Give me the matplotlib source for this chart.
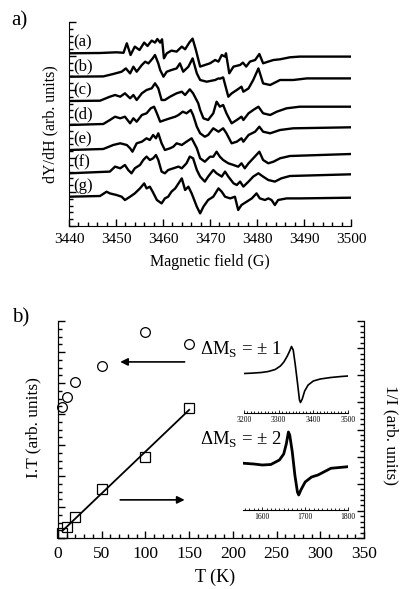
import numpy as np
import matplotlib
matplotlib.use('Agg')
import matplotlib.pyplot as plt
from matplotlib.ticker import MultipleLocator, NullFormatter

plt.rcParams['font.family'] = ['Liberation Serif', 'DejaVu Serif']
plt.rcParams['mathtext.fontset'] = 'custom'
plt.rcParams['mathtext.rm'] = 'Liberation Serif'

# ---- panel a : EPR spectra (field in G, signal in arb. units) ----
labels_a = ['(a)', '(b)', '(c)', '(d)', '(e)', '(f)', '(g)']

field_a = [3440.0, 3446.6, 3450.1, 3451.6, 3452.3, 3453.1, 3454.0, 3455.0, 3456.0, 3456.7,
           3457.6, 3458.3, 3458.8, 3459.4, 3459.8, 3460.2, 3460.8, 3461.8, 3462.9, 3464.0,
           3464.7, 3465.6, 3466.3, 3467.0, 3467.9, 3470.0, 3471.1, 3471.8, 3472.5, 3473.2,
           3473.4, 3474.1, 3475.0, 3476.4, 3477.0, 3477.7, 3478.5, 3479.6, 3480.5, 3481.3,
           3482.4, 3483.5, 3484.9, 3487.0, 3489.1, 3500.0]
sig_a = [0, 0.3, 1.0, 0.5, 10.0, -1.7, 6.7, 3.3, 10.7, 7.3,
         12.7, 10.7, 14.3, 10.7, 14.0, -5.0, 0, 2.7, 1.7, 6.7,
         4.0, 10.7, 14.7, 3.3, -13.3, -10.0, -6.7, -8.3, -1.7, -3.3,
         0, -20.0, -13.3, -11.7, -9.3, -13.3, -8.3, -6.7, -0.7, -10.0,
         -8.3, -6.7, -6.0, -4.0, -3.3, -3.3]

field_b = [3440.0, 3447.3, 3449.4, 3451.2, 3452.1, 3453.0, 3453.7, 3454.4, 3455.5, 3456.2,
           3456.9, 3457.8, 3458.3, 3459.0, 3459.4, 3460.1, 3460.8, 3461.8, 3462.9, 3463.6,
           3464.3, 3465.4, 3466.3, 3467.2, 3467.9, 3469.3, 3471.1, 3471.8, 3472.1, 3472.8,
           3473.9, 3474.6, 3475.7, 3476.7, 3477.1, 3478.2, 3479.2, 3480.3, 3481.3, 3482.8,
           3484.9, 3487.7, 3490.6, 3500.0]
sig_b = [0, 0.3, 2.7, 5.0, 8.3, 3.3, 10.0, 5.0, 11.7, 15.0,
         13.3, 18.3, 21.7, 13.3, 6.7, 0, 5.0, 6.7, 8.3, 13.3,
         5.0, 10.0, 18.3, 3.3, -3.3, -5.0, -3.3, -1.7, -2.0, -0.7,
         -20.0, -16.7, -13.3, -10.0, -15.0, -11.7, -3.3, 8.3, -6.7, -8.3,
         -3.3, -3.3, -1.7, -1.7]

field_c = [3440.0, 3446.6, 3448.7, 3449.8, 3450.9, 3451.9, 3453.0, 3453.7, 3454.4, 3455.5,
           3456.5, 3457.6, 3458.3, 3459.0, 3459.7, 3460.4, 3461.5, 3462.2, 3462.9, 3464.0,
           3464.7, 3465.7, 3466.4, 3467.5, 3467.9, 3468.6, 3469.6, 3470.7, 3471.4, 3472.1,
           3472.8, 3473.5, 3474.6, 3475.7, 3476.7, 3477.1, 3478.2, 3479.2, 3480.3, 3481.3,
           3482.8, 3484.2, 3486.3, 3489.1, 3500.0]
sig_c = [0, 0.3, 4.3, 6.0, 4.3, 7.7, 2.7, 6.0, 1.0, 7.7,
         11.0, 12.7, 17.7, 12.7, 1.0, 1.0, 4.3, 6.0, 7.7, 9.3,
         6.0, 11.7, 7.7, -2.3, -9.0, -17.3, -19.0, -12.3, -0.7, -5.7,
         -4.0, -12.3, -22.3, -19.0, -15.7, -19.0, -12.3, -9.0, -5.7, -12.3,
         -14.0, -10.7, -7.3, -5.7, -5.7]

field_d = [3440.0, 3447.3, 3448.7, 3449.8, 3450.9, 3451.9, 3453.0, 3453.7, 3454.4, 3455.5,
           3456.5, 3457.4, 3458.1, 3458.7, 3459.4, 3460.4, 3461.5, 3462.6, 3463.3, 3464.2,
           3465.0, 3465.9, 3466.4, 3467.2, 3467.9, 3468.9, 3469.6, 3470.7, 3471.8, 3472.8,
           3473.5, 3474.6, 3475.7, 3476.7, 3477.1, 3478.2, 3479.6, 3480.5, 3481.3, 3482.8,
           3484.9, 3487.7, 3500.0]
sig_d = [0, 1.0, 5.0, 8.3, 6.7, 8.3, 1.7, 6.7, 3.3, 10.0,
         11.7, 16.7, 18.3, 11.7, 3.3, 5.0, 6.7, 8.3, 10.0, 13.3,
         11.7, 15.0, 10.0, -1.7, -8.3, -11.7, -10.0, -3.3, -6.7, -3.3,
         -8.3, -18.3, -16.7, -13.3, -16.7, -10.0, -6.7, -1.7, -6.7, -8.3,
         -5.0, -3.3, -2.3]

field_e = [3440.0, 3447.3, 3449.4, 3450.9, 3452.3, 3453.0, 3453.5, 3454.4, 3455.5, 3456.5,
           3457.2, 3457.9, 3458.5, 3459.0, 3459.7, 3460.4, 3461.5, 3462.2, 3462.9, 3464.0,
           3465.0, 3466.1, 3467.2, 3467.9, 3468.9, 3470.0, 3470.7, 3471.4, 3472.1, 3472.8,
           3473.9, 3475.0, 3476.0, 3476.7, 3477.4, 3478.2, 3479.2, 3480.5, 3481.3, 3482.4,
           3483.5, 3484.9, 3487.0, 3500.0]
sig_e = [0, 1.0, 5.0, 6.7, 5.0, 1.7, -1.7, 6.7, 8.3, 11.7,
         10.0, 15.0, 11.7, 16.7, 6.7, 0, 1.7, 3.3, 6.7, 5.0,
         8.3, 11.7, 1.7, -8.3, -11.7, -6.7, -6.7, -1.7, -6.7, -10.0,
         -13.3, -15.0, -16.7, -13.3, -18.3, -13.3, -8.3, -1.7, -10.0, -13.3,
         -11.7, -8.3, -6.0, -4.0]

field_f = [3440.0, 3448.7, 3449.8, 3450.9, 3451.9, 3452.6, 3453.3, 3454.0, 3455.1, 3455.8,
           3456.5, 3457.2, 3457.9, 3458.5, 3459.0, 3459.7, 3460.4, 3461.1, 3462.2, 3463.3,
           3464.0, 3465.0, 3465.7, 3466.4, 3467.2, 3467.9, 3468.9, 3469.6, 3470.7, 3471.4,
           3472.5, 3473.2, 3473.9, 3475.0, 3475.7, 3476.4, 3477.1, 3478.2, 3479.2, 3480.3,
           3481.3, 3482.4, 3483.8, 3485.2, 3487.0, 3500.0]
sig_f = [0, 1.7, 6.7, 5.0, 8.3, 3.3, 0, 5.0, 8.3, 13.3,
         16.7, 13.3, 15.0, 18.3, 13.3, 1.7, 0, 3.3, 5.0, 6.7,
         5.0, 10.0, 16.7, 15.0, 3.3, -3.3, -8.3, -3.3, 3.3, 0,
         -3.3, 1.7, -3.3, -10.0, -11.7, -8.3, -13.3, -8.3, -3.3, 0,
         -3.3, -6.7, -8.3, -5.0, -2.7, -1.0]

field_g = [3440.0, 3446.6, 3448.0, 3448.7, 3450.1, 3451.2, 3451.9, 3453.0, 3454.0, 3455.1,
           3456.0, 3456.5, 3457.2, 3457.8, 3458.7, 3459.7, 3460.4, 3461.1, 3461.8, 3462.6,
           3463.3, 3464.0, 3464.7, 3465.4, 3466.1, 3467.2, 3467.9, 3468.6, 3469.6, 3470.7,
           3471.8, 3472.5, 3473.2, 3474.3, 3475.3, 3476.0, 3476.7, 3477.8, 3478.9, 3479.9,
           3480.6, 3481.7, 3482.4, 3483.1, 3483.8, 3484.5, 3486.3, 3489.1, 3500.0]
sig_g = [0, 0.7, 5.0, 3.3, 1.7, 0, -3.3, 0, 3.3, 8.3,
         13.3, 8.3, 10.0, 5.0, -3.3, -6.7, -1.7, 0, 5.0, 8.3,
         13.3, 18.3, 6.7, 10.0, 3.3, -10.0, -16.7, -10.0, -3.3, 0,
         8.3, 5.0, 0, -1.7, 0, -13.3, -8.3, -5.0, -1.7, 3.3,
         -1.7, -3.3, -1.7, -3.3, -8.3, -3.3, -1.7, -1.7, -1.0]

spectra = [(field_a, sig_a), (field_b, sig_b), (field_c, sig_c), (field_d, sig_d),
           (field_e, sig_e), (field_f, sig_f), (field_g, sig_g)]

# ---- panel b : intensities vs temperature ----
T = [5, 10, 20, 50, 100, 150]
IT = [4.22, 4.56, 5.04, 5.56, 6.65, 6.25]          # circles, left axis
inv_I = [0.20, 0.39, 0.76, 1.81, 3.00, 4.79]        # squares, right axis

# ---- insets ----
b1_field = [3200, 3220, 3250, 3270, 3290, 3305, 3315, 3325, 3333, 3337, 3342, 3348,
            3355, 3360, 3363, 3368, 3375, 3385, 3400, 3420, 3450, 3480, 3500]
b1_sig = [39.5, 39.8, 40.5, 41.5, 43.5, 47, 51, 57, 63, 66.5, 63, 48,
          28, 13, 10.5, 14, 22, 28, 32, 34, 35.5, 36.5, 37]
b2_field = [1558, 1580, 1600, 1620, 1640, 1650, 1656, 1661, 1664, 1670, 1676, 1682,
            1685, 1690, 1700, 1715, 1730, 1760, 1800]
b2_sig = [46.7, 46, 45, 45.5, 50, 56, 66, 78, 75, 58, 35, 18,
          15, 20, 28, 33, 35, 41.7, 43.3]

W, H = 401, 589
def rect(l, t, r, b):
    return [l / W, 1 - b / H, (r - l) / W, (b - t) / H]

fig = plt.figure(figsize=(W / 100, H / 100), dpi=100)

# ===== panel a =====
axa = fig.add_axes(rect(69, 22, 351, 226))
offsets = [172.7, 149.3, 125.0, 101.0, 76.0, 52.7, 29.3]
for (f, s), off, lab in zip(spectra, offsets, labels_a):
    axa.plot(f, np.array(s) + off, color='black', lw=1.7)
    axa.text(3440.9, off + 2.5, lab, fontsize=12, ha='left', va='bottom')
axa.set_xlim(3440, 3500)
axa.set_ylim(0, 204)
for s in ['top', 'right']:
    axa.spines[s].set_visible(False)
axa.xaxis.set_major_locator(MultipleLocator(10))
axa.xaxis.set_minor_locator(MultipleLocator(2))
axa.yaxis.set_major_locator(MultipleLocator(34))
axa.yaxis.set_minor_locator(MultipleLocator(6.8))
axa.yaxis.set_major_formatter(NullFormatter())
axa.tick_params(which='both', direction='in', labelsize=11, width=1)
axa.tick_params(which='major', length=5, pad=5)
axa.tick_params(which='minor', length=3)
fig.text(50 / W, 1 - 124 / H, 'dY/dH (arb. units)', rotation=90, fontsize=11.5, ha='center', va='center')
fig.text(210 / W, 1 - 262 / H, 'Magnetic field (G)', fontsize=11.5, ha='center', va='center')
fig.text(19 / W, 1 - 21 / H, 'a)', fontsize=15, ha='center', va='center')

# ===== panel b =====
axb = fig.add_axes(rect(58, 321, 364, 538))
axb.plot(T, IT, 'o', mfc='none', mec='black', ms=7, mew=0.9, clip_on=False)
axb.set_xlim(0, 350)
axb.set_ylim(0, 7)
axb.spines['top'].set_visible(False)
axb.xaxis.set_major_locator(MultipleLocator(50))
axb.xaxis.set_minor_locator(MultipleLocator(10))
axb.yaxis.set_major_locator(MultipleLocator(1))
axb.yaxis.set_minor_locator(MultipleLocator(0.25))
axb.yaxis.set_major_formatter(NullFormatter())
axb.tick_params(which='both', direction='in', labelsize=12.5, width=1)
axb.tick_params(which='major', length=5, pad=6)
axb.tick_params(which='minor', length=3)
axb.annotate('', xy=(68, 5.68), xytext=(148, 5.68),
             arrowprops=dict(arrowstyle='-|>', color='black', lw=1.2, mutation_scale=11))
axb.annotate('', xy=(148, 1.23), xytext=(68, 1.23),
             arrowprops=dict(arrowstyle='-|>', color='black', lw=1.2, mutation_scale=11))

axr = axb.twinx()
axr.plot(T, inv_I, 's', mfc='none', mec='black', ms=6.5, mew=0.9, clip_on=False)
k, c = np.polyfit(T, inv_I, 1)
tl = np.array([T[0], T[-1]])
axr.plot(tl, k * tl + c, color='black', lw=1.3)
axr.set_ylim(0, 8)
axr.spines['top'].set_visible(False)
axr.yaxis.set_major_locator(MultipleLocator(1))
axr.yaxis.set_minor_locator(MultipleLocator(0.2))
axr.yaxis.set_major_formatter(NullFormatter())
axr.tick_params(which='both', direction='in', width=1)
axr.tick_params(which='major', length=5)
axr.tick_params(which='minor', length=3)

fig.text(33 / W, 1 - 428 / H, 'I.T (arb. units)', rotation=90, fontsize=12.5, ha='center', va='center')
fig.text(391 / W, 1 - 435 / H, '1/I (arb. units)', rotation=270, fontsize=12.5, ha='center', va='center')
fig.text(215 / W, 1 - 577 / H, 'T (K)', fontsize=13, ha='center', va='center')
fig.text(21 / W, 1 - 318 / H, 'b)', fontsize=15, ha='center', va='center')
fig.text(200 / W, 1 - 350 / H, r'$\Delta$M$_\mathregular{S}$ = ± 1', fontsize=13.5, ha='left', va='center')
fig.text(200 / W, 1 - 440 / H, r'$\Delta$M$_\mathregular{S}$ = ± 2', fontsize=13.5, ha='left', va='center')

# insets
def inset(r, x, y, xlim, ylim, lw):
    ax = fig.add_axes(r)
    ax.plot(x, y, color='black', lw=lw)
    ax.set_xlim(*xlim)
    ax.set_ylim(*ylim)
    for s in ['top', 'right', 'left']:
        ax.spines[s].set_visible(False)
    ax.spines['bottom'].set_linewidth(0.8)
    ax.patch.set_alpha(0)
    ax.set_yticks([])
    ax.xaxis.set_major_locator(MultipleLocator(100))
    ax.xaxis.set_minor_locator(MultipleLocator(10))
    ax.tick_params(which='both', direction='in', labelsize=5.5, width=0.6, pad=2)
    ax.tick_params(which='major', length=2.5)
    ax.tick_params(which='minor', length=1.5)
    return ax

inset(rect(244, 340, 348, 413), b1_field, b1_sig, (3200, 3500), (0, 73), 1.2)
inset(rect(243, 420, 348, 510), b2_field, b2_sig, (1555, 1800), (0, 90), 2.0)

fig.savefig('out.png', dpi=100)
